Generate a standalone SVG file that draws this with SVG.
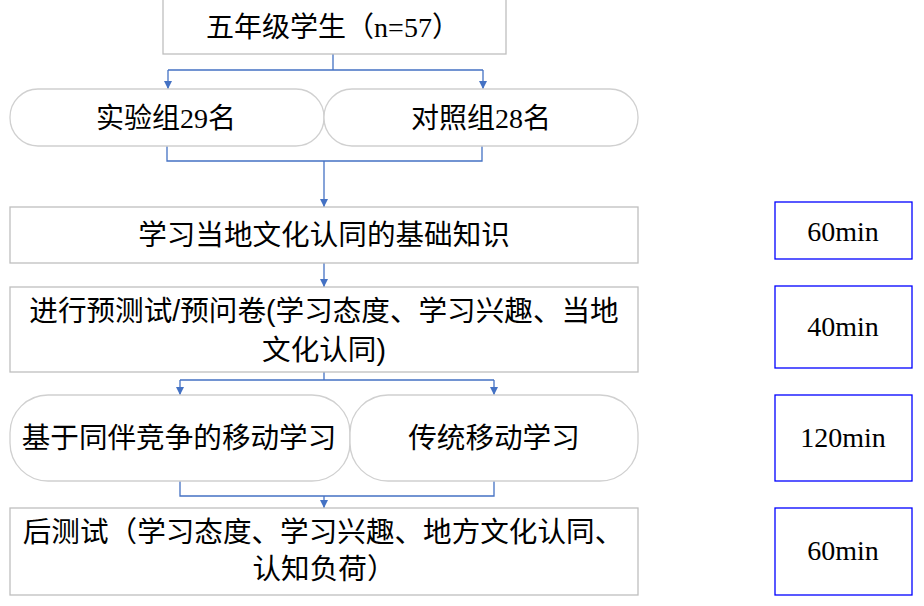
<svg xmlns="http://www.w3.org/2000/svg" width="924" height="606" viewBox="0 0 924 606">
<style>
.box{fill:#fff;stroke:#BFBFBF;stroke-width:1.3}
.pill{fill:#fff;stroke:#D0D0D0;stroke-width:1.3}
.tbox{fill:#fff;stroke:#0000FF;stroke-width:1.3}
.t{font-family:"Liberation Serif","Noto Sans CJK SC",serif;font-size:28px;fill:#000;text-anchor:middle}
.ts{font-family:"Liberation Sans","Noto Sans CJK SC",sans-serif;font-size:28.6px;fill:#000;text-anchor:middle}
.c{fill:none;stroke:#4472C4;stroke-width:1.3}
</style>
<defs>
<marker id="ah" markerUnits="userSpaceOnUse" markerWidth="8" markerHeight="8" refX="8" refY="4" orient="auto">
<path d="M0,0 L8,4 L0,8 z" fill="#4472C4"/>
</marker>
</defs>
<g id="connectors">
<path class="c" d="M333 54 V70 M168 70 H483"/>
<path class="c" d="M168 70 V89" marker-end="url(#ah)"/>
<path class="c" d="M483 70 V89" marker-end="url(#ah)"/>
<path class="c" d="M167 146 V161 H482 V146"/>
<path class="c" d="M324 161 V207" marker-end="url(#ah)"/>
<path class="c" d="M324 263 V287" marker-end="url(#ah)"/>
<path class="c" d="M324 372 V380 M180 380 H494"/>
<path class="c" d="M180 380 V395" marker-end="url(#ah)"/>
<path class="c" d="M494 380 V395" marker-end="url(#ah)"/>
<path class="c" d="M180 481 V496 H494 V481"/>
<path class="c" d="M324 496 V508" marker-end="url(#ah)"/>
</g>
<g id="n-students">
<rect class="box" x="163" y="-1" width="343" height="55"/>
<text class="t" x="333" y="37" font-size="28.5">五年级学生（n=57）</text>
</g>
<g id="n-exp">
<rect class="pill" x="10" y="89" width="314" height="57" rx="28" ry="28"/>
<text class="t" x="166" y="128" font-size="28.5">实验组29名</text>
</g>
<g id="n-ctrl">
<rect class="pill" x="324" y="89" width="314" height="57" rx="28" ry="28"/>
<text class="t" x="481" y="128" font-size="28.5">对照组28名</text>
</g>
<g id="n-basic">
<rect class="box" x="10" y="207" width="628" height="56"/>
<text class="ts" x="324" y="245">学习当地文化认同的基础知识</text>
</g>
<g id="n-pretest">
<rect class="box" x="10" y="287" width="628" height="85"/>
<text class="ts" x="324" y="321">进行预测试/预问卷(学习态度、学习兴趣、当地</text>
<text class="ts" x="324" y="360">文化认同)</text>
</g>
<g id="n-peer">
<rect class="pill" x="10" y="395" width="340" height="86" rx="38" ry="38"/>
<text class="ts" x="179" y="448">基于同伴竞争的移动学习</text>
</g>
<g id="n-trad">
<rect class="pill" x="350" y="395" width="288" height="86" rx="38" ry="38"/>
<text class="ts" x="494" y="448">传统移动学习</text>
</g>
<g id="n-posttest">
<rect class="box" x="10" y="508" width="628" height="87"/>
<text class="ts" x="323" y="542">后测试（学习态度、学习兴趣、地方文化认同、</text>
<text class="ts" x="324" y="579">认知负荷）</text>
</g>
<g id="t1">
<rect class="tbox" x="775" y="202" width="137" height="57"/>
<text class="t" x="843" y="241">60min</text>
</g>
<g id="t2">
<rect class="tbox" x="775" y="286" width="137" height="82"/>
<text class="t" x="843" y="336">40min</text>
</g>
<g id="t3">
<rect class="tbox" x="775" y="395" width="137" height="86"/>
<text class="t" x="843" y="447">120min</text>
</g>
<g id="t4">
<rect class="tbox" x="775" y="508" width="137" height="87"/>
<text class="t" x="843" y="560">60min</text>
</g>
</svg>
